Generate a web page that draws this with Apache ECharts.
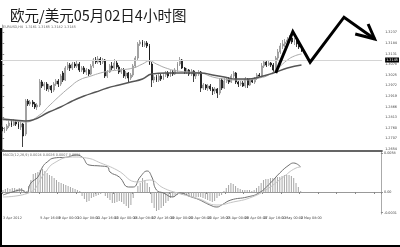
<!DOCTYPE html>
<html><head><meta charset="utf-8">
<script src="https://cdn.jsdelivr.net/npm/echarts@6/dist/echarts.min.js"></script>
<style>html,body{margin:0;padding:0;background:#fff}#c{width:400px;height:247px}</style>
</head><body><div id="c"></div><script>
const titleText = '欧元/美元05月02日4小时图';
const days = ['3 Apr','4 Apr','5 Apr','6 Apr','9 Apr','10 Apr','11 Apr','12 Apr','13 Apr','16 Apr','17 Apr','18 Apr','19 Apr','20 Apr','23 Apr','24 Apr','25 Apr','26 Apr','27 Apr','30 Apr','1 May','2 May'];
const hours = ['00:00','04:00','08:00','12:00','16:00','20:00'];
const slots = 163;

const open = [1.2765,1.2745,1.2755,1.2770,1.2785,1.2775,1.2790,1.2780,1.2765,1.2780,
1.2730,1.2895,1.2880,1.2890,1.2880,1.2865,1.2875,1.2990,1.2970,1.2980,
1.2955,1.2970,1.2950,1.2980,1.2995,1.2980,1.3035,1.3000,1.3060,1.3075,
1.3060,1.3080,1.3070,1.3080,1.3050,1.3060,1.3040,1.3050,1.3030,1.3070,
1.3100,1.3090,1.3105,1.3090,1.3100,1.3020,1.3040,1.3070,1.3060,1.3085,
1.3065,1.3040,1.3050,1.3020,1.3035,1.3010,1.3025,1.3070,1.3110,1.3180,
1.3190,1.3175,1.3185,1.3170,1.3080,1.3000,1.3015,1.3000,1.3020,1.3005,
1.3025,1.3035,1.3020,1.3040,1.3030,1.3050,1.3080,1.3100,1.3060,1.3040,
1.3050,1.3030,1.3045,1.3020,1.3030,1.3040,1.2960,1.2975,1.2960,1.2970,
1.2955,1.2945,1.2955,1.2935,1.3000,1.2960,1.2995,1.3005,1.2990,1.3020,
1.3035,1.2990,1.2980,1.2985,1.2970,1.3005,1.2975,1.3000,1.2990,1.3010,
1.3025,1.3020,1.3070,1.3090,1.3075,1.3085,1.3075,1.3050,1.3110,1.3140,
1.3170,1.3180,1.3190,1.3200,1.3210,1.3190,1.3200,1.3180,1.3165];
const close = [1.2745,1.2755,1.2770,1.2785,1.2775,1.2790,1.2780,1.2765,1.2780,1.2720,
1.2895,1.2880,1.2890,1.2880,1.2865,1.2875,1.2990,1.2970,1.2980,1.2955,
1.2970,1.2950,1.2980,1.2995,1.2980,1.3020,1.3000,1.3060,1.3075,1.3060,
1.3080,1.3070,1.3080,1.3050,1.3060,1.3040,1.3050,1.3030,1.3070,1.3100,
1.3090,1.3105,1.3090,1.3100,1.3020,1.3040,1.3070,1.3060,1.3085,1.3065,
1.3040,1.3050,1.3020,1.3035,1.3010,1.3025,1.3070,1.3110,1.3180,1.3190,
1.3175,1.3185,1.3170,1.3080,1.3000,1.3015,1.3000,1.3020,1.3005,1.3025,
1.3035,1.3020,1.3040,1.3030,1.3050,1.3080,1.3100,1.3060,1.3040,1.3050,
1.3030,1.3045,1.3020,1.3030,1.3040,1.2960,1.2975,1.2960,1.2970,1.2955,
1.2945,1.2955,1.2935,1.3000,1.2960,1.2995,1.3005,1.2990,1.3020,1.3035,
1.2990,1.2980,1.2985,1.2970,1.3005,1.2975,1.3000,1.2990,1.3010,1.3025,
1.3020,1.3070,1.3090,1.3075,1.3085,1.3075,1.3050,1.3110,1.3140,1.3170,
1.3180,1.3190,1.3200,1.3210,1.3190,1.3200,1.3180,1.3165,1.3145];
const low = [1.2730,1.2735,1.2745,1.2760,1.2765,1.2770,1.2770,1.2755,1.2750,1.2665,
1.2720,1.2870,1.2870,1.2865,1.2855,1.2850,1.2865,1.2960,1.2950,1.2945,
1.2940,1.2935,1.2940,1.2970,1.2965,1.2970,1.2990,1.2995,1.3050,1.3045,
1.3050,1.3060,1.3060,1.3040,1.3040,1.3030,1.3025,1.3020,1.3025,1.3060,
1.3080,1.3080,1.3075,1.3080,1.3010,1.3010,1.3035,1.3050,1.3050,1.3055,
1.3030,1.3030,1.3010,1.3005,1.2990,1.3000,1.3015,1.3060,1.3100,1.3170,
1.3165,1.3165,1.3160,1.3075,1.2965,1.2985,1.2990,1.2990,1.2995,1.3000,
1.3015,1.3010,1.3015,1.3020,1.3025,1.3040,1.3070,1.3055,1.3030,1.3030,
1.3020,1.3020,1.2990,1.3005,1.3020,1.2940,1.2950,1.2950,1.2945,1.2945,
1.2925,1.2930,1.2910,1.2925,1.2950,1.2955,1.2985,1.2980,1.2985,1.3010,
1.2980,1.2965,1.2970,1.2965,1.2960,1.2960,1.2970,1.2985,1.2980,1.3000,
1.3015,1.3015,1.3060,1.3065,1.3070,1.3065,1.3040,1.3045,1.3100,1.3130,
1.3155,1.3165,1.3175,1.3185,1.3180,1.3175,1.3165,1.3155,1.3140];
const high = [1.2775,1.2765,1.2780,1.2795,1.2800,1.2805,1.2800,1.2790,1.2790,1.2785,
1.2905,1.2905,1.2900,1.2900,1.2890,1.2885,1.3005,1.3000,1.2990,1.2990,
1.2980,1.2975,1.2990,1.3005,1.3005,1.3030,1.3045,1.3070,1.3090,1.3085,
1.3090,1.3090,1.3095,1.3090,1.3070,1.3070,1.3060,1.3055,1.3080,1.3110,
1.3115,1.3120,1.3115,1.3110,1.3105,1.3050,1.3080,1.3090,1.3105,1.3095,
1.3075,1.3060,1.3060,1.3045,1.3040,1.3035,1.3080,1.3120,1.3190,1.3200,
1.3200,1.3195,1.3195,1.3180,1.3090,1.3025,1.3025,1.3030,1.3030,1.3035,
1.3045,1.3045,1.3050,1.3050,1.3060,1.3090,1.3115,1.3105,1.3065,1.3060,
1.3055,1.3055,1.3050,1.3040,1.3050,1.3045,1.2985,1.2980,1.2980,1.2980,
1.2965,1.2965,1.2960,1.3010,1.3010,1.3010,1.3015,1.3015,1.3030,1.3045,
1.3040,1.2995,1.2995,1.2995,1.3015,1.3010,1.3010,1.3010,1.3015,1.3035,
1.3035,1.3085,1.3100,1.3095,1.3095,1.3090,1.3085,1.3120,1.3155,1.3185,
1.3200,1.3205,1.3215,1.3225,1.3220,1.3210,1.3210,1.3190,1.3175];

const maFast = [[0,1.2800],[5,1.2795],[10,1.2790],[16,1.2825],[20,1.2870],[25,1.2925],[29,1.2965],[33,1.3000],[38,1.3020],[42,1.3035],[46,1.3045],[50,1.3050],[56,1.3060],[60,1.3080],[63,1.3095],[66,1.3080],[70,1.3060],[75,1.3045],[80,1.3040],[85,1.3035],[90,1.3015],[95,1.3005],[100,1.3000],[105,1.3000],[110,1.3010],[114,1.3025],[118,1.3060],[122,1.3100],[125,1.3120],[128,1.3130]];
const maSlow = [[0,1.2805],[5,1.2800],[10,1.2795],[13,1.2800],[20,1.2840],[25,1.2865],[30,1.2895],[35,1.2920],[40,1.2940],[45,1.2960],[50,1.2975],[55,1.2990],[60,1.3005],[64,1.3030],[70,1.3035],[80,1.3035],[85,1.3035],[90,1.3025],[95,1.3015],[100,1.3005],[105,1.3005],[110,1.3015],[116,1.3035],[122,1.3060],[128,1.3075]];

const macdHist = [0.0003,0.00045,0.0006,0.00045,0.0006,0.0006,0.00045,0.0006,0.0006,0.0003,
0.00015,0.0009,0.0018,0.0027,0.00285,0.003,0.0033,0.00345,0.00315,0.00285,
0.00255,0.0024,0.0021,0.0018,0.0015,0.00135,0.0012,0.00105,0.0009,0.00075,
0.0006,0.00045,0.0003,0.00015,-0.0006,-0.00105,-0.0015,-0.00135,-0.0009,-0.00075,
-0.0006,-0.00045,-0.0003,-0.00015,-0.0006,-0.0009,-0.0012,-0.00165,-0.00165,-0.0015,
-0.00135,-0.0015,-0.0018,-0.0021,-0.0024,-0.00195,-0.0009,0,0.0009,0.00135,
0.0021,0.0018,0.00135,0.00075,-0.00165,-0.0024,-0.00285,-0.0027,-0.0024,-0.0021,
-0.00165,-0.00135,-0.0009,-0.00075,-0.0006,-0.00045,-0.0003,-0.00045,-0.00045,-0.0006,
-0.00075,-0.00075,-0.00075,-0.00075,-0.00075,-0.00075,-0.0009,-0.00105,-0.0012,-0.00135,
-0.0015,-0.00135,-0.0009,-0.0006,-0.00045,0.00015,0.0006,0.00105,0.00135,0.0012,
0.0009,0.0006,0.00045,0.0003,0.0003,0.0003,0.0003,0.00015,0.0003,0.0006,
0.0009,0.00135,0.0018,0.00195,0.00195,0.0021,0.0021,0.0021,0.00225,0.00225,
0.0024,0.00255,0.00255,0.00255,0.0024,0.0021,0.00135,0.00075,0.00015];
const macdMain = [[0,-0.00045],[4,0],[8,0.0003],[10,-0.00015],[12,0.00135],[15,0.00225],[17,0.00375],[19,0.0045],[22,0.0051],[28,0.00525],[31,0.00555],[34,0.00525],[37,0.00405],[42,0.0039],[45,0.00375],[46,0.003],[50,0.00225],[54,0.00075],[56,0.00075],[59,0.00225],[62,0.00315],[64,0.00225],[66,0.0003],[69,-0.00015],[73,-0.00075],[76,-0.00015],[81,-0.00075],[84,-0.0011],[89,-0.00195],[92,-0.00225],[94,-0.00195],[98,-0.0012],[105,-0.00075],[110,-0.00015],[115,0.00135],[119,0.00285],[123,0.00405],[125,0.00435],[128,0.00375]];
const macdSignal = [[0,-0.00075],[11,-0.00015],[18,0.00285],[22,0.00435],[30,0.00525],[36,0.0051],[42,0.00435],[49,0.0033],[58,0.0015],[63,0.0018],[69,0.0006],[75,-0.00015],[84,-0.001],[92,-0.00195],[99,-0.0015],[106,-0.0009],[113,0.0003],[120,0.0021],[126,0.0036],[128,0.00375]];

const priceTicks = [1.3237,1.3184,1.3131,1.3078,1.3025,1.2972,1.2919,1.2866,1.2813,1.2760,1.2707,1.2654];
const macdTicks = [0.0058,0,-0.0031];

const zigzag = [[117.0,1.3035],[124.3,1.3242],[131.7,1.3089],[146.2,1.3314],[159.3,1.3205]];
const arrowHead = [[151.0,1.3230],[159.3,1.3205],[156.5,1.3280]];

const cats = [];
for (const d of days) for (const h of hours) cats.push(d + ' ' + h);
cats.length = open.length;
cats[0] = '3 Apr 2012';
while (cats.length < slots) cats.push('');

const candles = open.map((o, i) => [o, close[i], low[i], high[i]]);
const lastClose = close[close.length - 1];

const tiny = {fontFamily: 'DejaVu Sans', fontSize: 3.4, color: '#444'};
const chart = echarts.init(document.getElementById('c'), null, {renderer: 'canvas'});
chart.setOption({
  animation: false,
  backgroundColor: '#fff',
  title: {text: titleText, left: 5, top: 3, textStyle: {fontFamily: 'Noto Sans CJK SC', fontSize: 14.5, fontWeight: 'normal', color: '#1a1a1a'}},
  grid: [
    {left: 1, right: 16, top: 25, height: 126},
    {left: 1, right: 16, top: 152, height: 62}
  ],
  xAxis: [
    {type: 'category', gridIndex: 0, data: cats, boundaryGap: true,
     axisLine: {show: true, lineStyle: {color: '#333', width: 1.5}}, axisTick: {show: false}, axisLabel: {show: false}, splitLine: {show: false}},
    {type: 'category', gridIndex: 1, data: cats, boundaryGap: true,
     axisLine: {show: true, lineStyle: {color: '#999', width: 1}},
     axisTick: {show: true, interval: 7, length: 2, lineStyle: {color: '#888'}},
     axisLabel: Object.assign({interval: 7, align: 'left', margin: 3, showMinLabel: true}, tiny), splitLine: {show: false}},
    {type: 'value', gridIndex: 0, min: -0.5, max: slots - 0.5, show: false}
  ],
  yAxis: [
    {type: 'value', gridIndex: 0, position: 'right', min: 1.2645, max: 1.3275,
     axisLine: {show: true, lineStyle: {color: '#aaa'}},
     axisTick: {show: true, length: 2, customValues: priceTicks, lineStyle: {color: '#888'}},
     axisLabel: Object.assign({customValues: priceTicks, margin: 3, formatter: v => v.toFixed(4)}, tiny),
     splitLine: {show: false}},
    {type: 'value', gridIndex: 1, position: 'right', min: -0.0033, max: 0.006,
     axisLine: {show: true, lineStyle: {color: '#aaa'}},
     axisTick: {show: true, length: 2, customValues: macdTicks, lineStyle: {color: '#888'}},
     axisLabel: Object.assign({customValues: macdTicks, margin: 3, formatter: v => v === 0 ? '0.00' : v.toFixed(4)}, tiny),
     splitLine: {show: false}}
  ],
  series: [
    {type: 'candlestick', xAxisIndex: 0, yAxisIndex: 0, data: candles, barWidth: 1.4,
     itemStyle: {color: '#ffffff', color0: '#111111', borderColor: '#8a8a8a', borderColor0: '#111111', borderWidth: 0.8},
     markLine: {symbol: 'none', silent: true, data: [{yAxis: lastClose}],
       lineStyle: {color: '#d4d4d4', width: 1, type: 'solid'},
       label: {show: true, position: 'end', formatter: () => lastClose.toFixed(4), backgroundColor: '#000', color: '#fff', fontFamily: 'DejaVu Sans', fontSize: 3.4, padding: [1, 1], distance: 3}}},
    {type: 'line', xAxisIndex: 0, yAxisIndex: 0, data: maFast, smooth: true, symbol: 'none', lineStyle: {color: '#ababab', width: 1}},
    {type: 'line', xAxisIndex: 0, yAxisIndex: 0, data: maSlow, smooth: true, symbol: 'none', lineStyle: {color: '#555', width: 1.4}},
    {type: 'line', xAxisIndex: 2, yAxisIndex: 0, data: zigzag, symbol: 'none', clip: false, z: 10, lineStyle: {color: '#000', width: 3, join: 'miter', cap: 'butt'}},
    {type: 'line', xAxisIndex: 2, yAxisIndex: 0, data: arrowHead, symbol: 'none', clip: false, z: 10, lineStyle: {color: '#000', width: 3, join: 'miter'}},
    {type: 'bar', xAxisIndex: 1, yAxisIndex: 1, data: macdHist, barWidth: 1, itemStyle: {color: '#a5a5a5'}},
    {type: 'line', xAxisIndex: 1, yAxisIndex: 1, data: macdMain, smooth: true, symbol: 'none', lineStyle: {color: '#707070', width: 1}},
    {type: 'line', xAxisIndex: 1, yAxisIndex: 1, data: macdSignal, smooth: true, symbol: 'none', lineStyle: {color: '#c4c4c4', width: 1}}
  ],
  graphic: [
    {type: 'text', left: 3, top: 25.5, style: {text: 'EURUSD,H4  1.3161 1.3165 1.3142 1.3145', fill: '#666', font: '3.4px DejaVu Sans'}},
    {type: 'text', left: 3, top: 154, style: {text: 'MACD(12,26,9) 0.0024 0.0026 0.0007 0.0058', fill: '#666', font: '3.4px DejaVu Sans'}},
    {type: 'line', shape: {x1: 1, y1: 28, x2: 1, y2: 247}, style: {stroke: '#000', lineWidth: 2}},
    {type: 'line', shape: {x1: 0, y1: 246, x2: 400, y2: 246}, style: {stroke: '#000', lineWidth: 2}}
  ]
});
</script></body></html>
